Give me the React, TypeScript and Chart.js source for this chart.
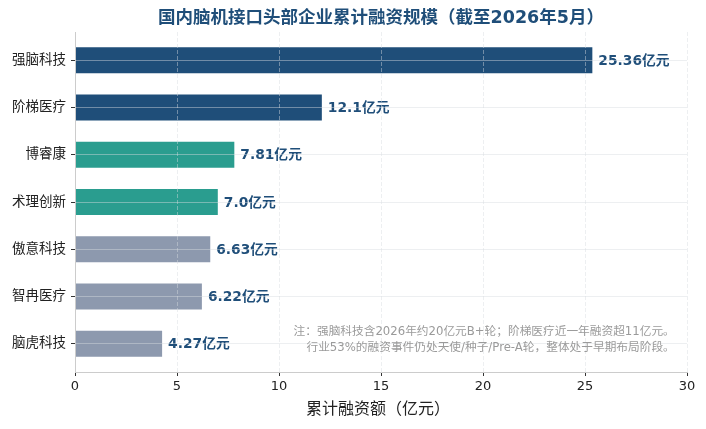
import React, { useEffect, useRef } from "react";
import { Chart, registerables } from "chart.js";

Chart.register(...registerables);

const companies = ["强脑科技", "阶梯医疗", "博睿康", "术理创新", "傲意科技", "智冉医疗", "脑虎科技"];
const funding = [25.36, 12.1, 7.81, 7.0, 6.63, 6.22, 4.27];
const valueLabels = ["25.36亿元", "12.1亿元", "7.81亿元", "7.0亿元", "6.63亿元", "6.22亿元", "4.27亿元"];
const barColors = ["#1f4e79", "#1f4e79", "#2a9d8f", "#2a9d8f", "#8d99ae", "#8d99ae", "#8d99ae"];
const xTicks = [0, 5, 10, 15, 20, 25, 30];
const titleText = "国内脑机接口头部企业累计融资规模（截至2026年5月）";
const xTitle = "累计融资额（亿元）";
const noteLines = [
  "注：强脑科技含2026年约20亿元B+轮；阶梯医疗近一年融资超11亿元。",
  "行业53%的融资事件仍处天使/种子/Pre-A轮，整体处于早期布局阶段。",
];

const FONT = '"DejaVu Sans", "Noto Sans CJK SC", sans-serif';
const NAVY = "#1f4e79";

export default function App() {
  const ref = useRef<HTMLCanvasElement | null>(null);

  useEffect(() => {
    document.body.style.margin = "0";
    const canvas = ref.current;
    if (!canvas) return;

    const overlay = {
      id: "overlay",
      afterDatasetsDraw(chart: any) {
        const ctx = chart.ctx;
        const meta = chart.getDatasetMeta(0);
        ctx.save();
        ctx.font = `bold 13.8px ${FONT}`;
        ctx.fillStyle = NAVY;
        ctx.textAlign = "left";
        ctx.textBaseline = "middle";
        meta.data.forEach((bar: any, i: number) => {
          ctx.fillText(valueLabels[i], bar.x + 6, bar.y + 1);
        });
        ctx.restore();
      },
      afterDraw(chart: any) {
        const ctx = chart.ctx;
        const area = chart.chartArea;
        const cx = (area.left + area.right) / 2;
        ctx.save();
        ctx.textAlign = "center";
        ctx.textBaseline = "middle";
        ctx.font = `bold 17.5px ${FONT}`;
        ctx.fillStyle = NAVY;
        ctx.fillText(titleText, cx, 18);
        ctx.font = `16px ${FONT}`;
        ctx.fillStyle = "#222";
        ctx.fillText(xTitle, cx - 3, 410);
        ctx.font = `11.7px ${FONT}`;
        ctx.fillStyle = "#9a9a9a";
        ctx.textAlign = "right";
        const nx = area.left + (area.right - area.left) * 0.98;
        ctx.fillText(noteLines[0], nx, 332);
        ctx.fillText(noteLines[1], nx, 348);
        ctx.restore();
      },
    };

    const chart = new Chart(canvas, {
      type: "bar",
      data: {
        datasets: [
          {
            data: funding.map((v, i) => ({ x: v, y: i })),
            backgroundColor: barColors,
            borderWidth: 0,
            barPercentage: 0.55,
            categoryPercentage: 1,
          },
        ],
      },
      options: {
        indexAxis: "y",
        animation: false,
        responsive: false,
        devicePixelRatio: 1,
        layout: { padding: { top: 32, right: 19, left: 0, bottom: 0 } },
        plugins: {
          legend: { display: false },
          title: { display: false },
          tooltip: { enabled: false },
        },
        scales: {
          x: {
            type: "linear",
            min: 0,
            max: 30,
            afterBuildTicks: (axis: any) => {
              axis.ticks = xTicks.map((v) => ({ value: v }));
            },
            afterFit: (axis: any) => {
              axis.height = 57;
            },
            grid: {
              z: 1,
              color: "rgba(215,220,225,0.45)",
              lineWidth: 1,
              tickLength: 4,
              tickColor: "#333",
              tickBorderDash: [],
            },
            border: { color: "#cccccc", width: 1, dash: [4, 2], z: 2 } as any,
            ticks: {
              padding: 3,
              color: "#222",
              font: { family: FONT, size: 13 },
              callback: (v: any) => String(v),
            },
          },
          y: {
            type: "linear",
            reverse: true,
            offset: false,
            min: -0.6,
            max: 6.6,
            afterBuildTicks: (axis: any) => {
              axis.ticks = companies.map((_, i) => ({ value: i }));
            },
            afterFit: (axis: any) => {
              axis.width = 75;
            },
            grid: {
              z: 1,
              offset: false,
              color: "rgba(215,220,225,0.45)",
              lineWidth: 1,
              tickLength: 4,
              tickColor: "#333",
            },
            border: { color: "#cccccc", width: 1, z: 2 } as any,
            ticks: {
              padding: 5,
              color: "#222",
              font: { family: FONT, size: 13.5 },
              callback: (v: any) => companies[Number(v)] ?? "",
            },
          },
        },
      },
      plugins: [overlay],
    } as any);

    return () => chart.destroy();
  }, []);

  return <canvas ref={ref} width={706} height={429} style={{ display: "block", width: 706, height: 429 }} />;
}
